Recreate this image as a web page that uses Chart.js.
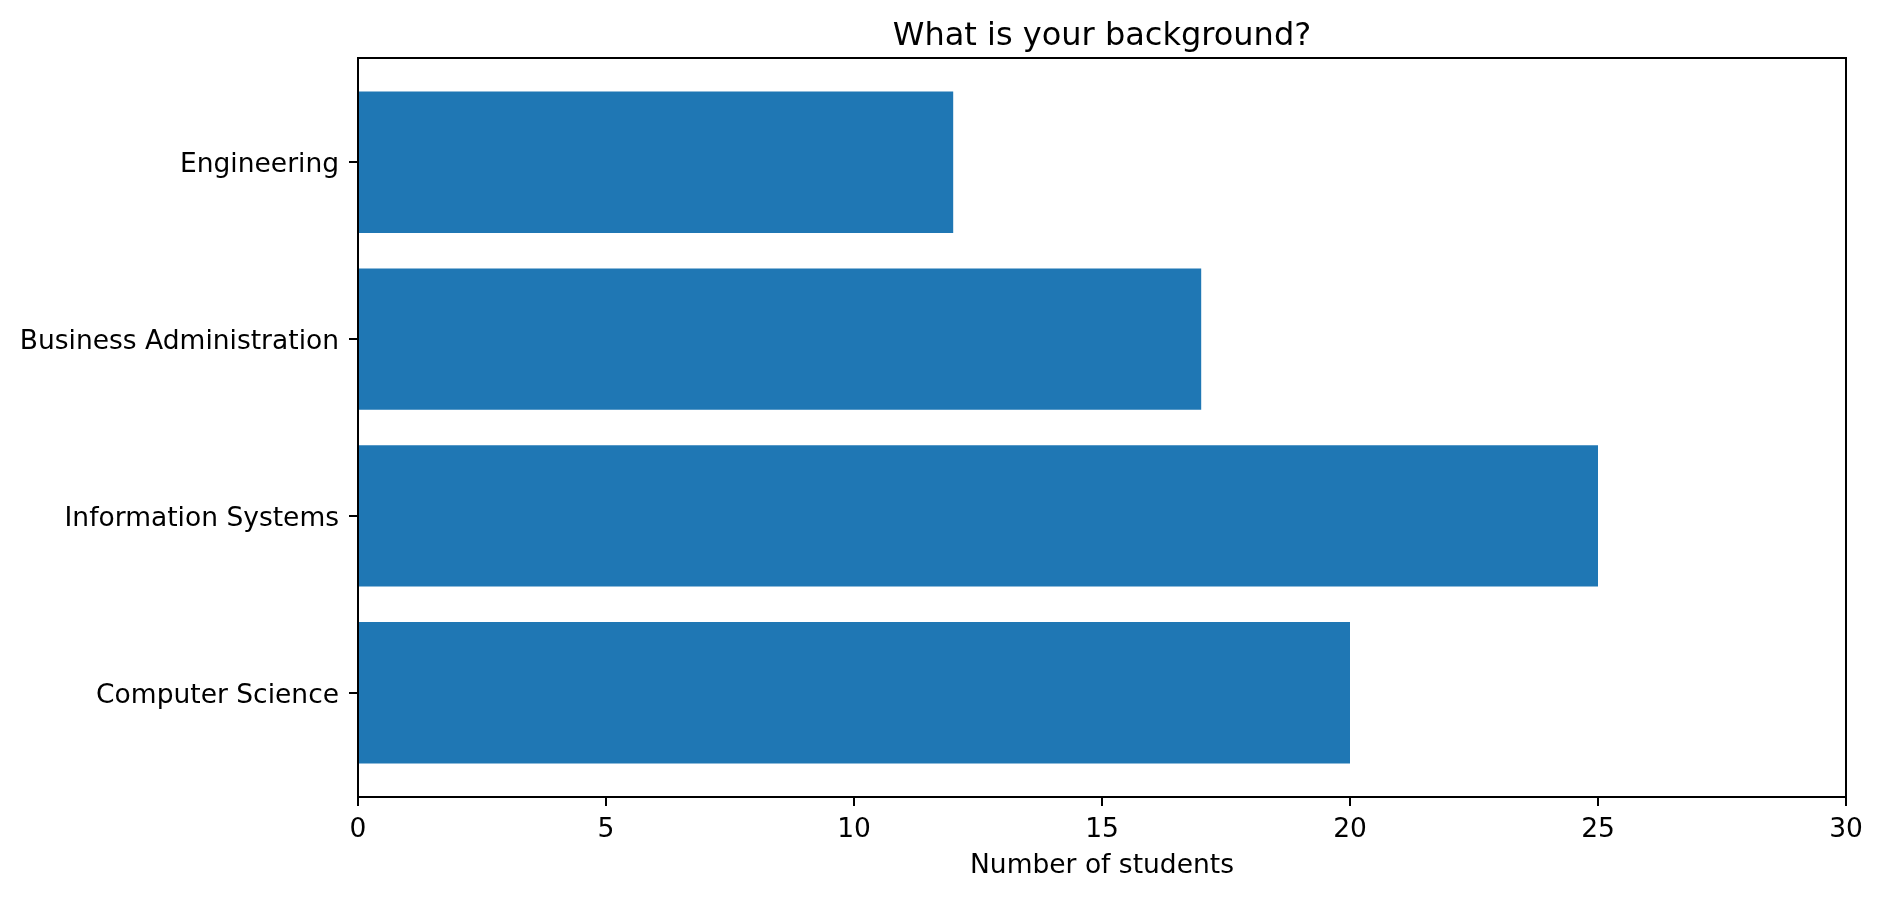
<!DOCTYPE html>
<html>
<head>
<meta charset="utf-8">
<title>What is your background?</title>
<script src="https://cdn.jsdelivr.net/npm/chart.js@4/dist/chart.umd.min.js"></script>
<style>
  html, body { margin: 0; padding: 0; background: #fff; }
  #wrap { width: 1882px; height: 898px; }
</style>
</head>
<body>
<div id="wrap"><canvas id="chart" width="1882" height="898"></canvas></div>
<script>
  // --- Data ---
  var categories = ['Computer Science', 'Information Systems', 'Business Administration', 'Engineering'];
  var students = [20, 25, 17, 12];
  var xTicks = [0, 5, 10, 15, 20, 25, 30];

  var FONT = "'DejaVu Sans', sans-serif";
  var BAR = '#1f77b4';

  // fixed box sizes so the plot area lands where matplotlib put it
  function fixWidth(w) { return function (s) { s.width = w; }; }
  function fixHeight(h) { return function (s) { s.height = h; }; }

  var points = students.map(function (v, i) { return { x: v, y: i }; });

  new Chart(document.getElementById('chart'), {
    type: 'bar',
    data: {
      datasets: [{
        label: 'Number of students',
        data: points,
        backgroundColor: BAR,
        borderWidth: 0,
        barPercentage: 0.8,
        categoryPercentage: 1.0
      }]
    },
    options: {
      indexAxis: 'y',
      responsive: false,
      animation: false,
      devicePixelRatio: 1,
      layout: { padding: 0 },
      plugins: {
        legend: { display: false },
        tooltip: { enabled: false },
        title: { display: false }
      },
      scales: {
        x: {
          type: 'linear',
          position: 'bottom',
          min: 0,
          max: 30,
          afterFit: fixHeight(101),
          afterBuildTicks: function (s) {
            s.ticks = xTicks.map(function (v) { return { value: v }; });
          },
          ticks: {
            font: { family: FONT, size: 26.5 },
            color: '#000',
            padding: 8,
            maxRotation: 0
          },
          grid: {
            display: true,
            drawOnChartArea: false,
            drawTicks: true,
            tickLength: 9,
            color: '#000',
            lineWidth: 2
          },
          border: { display: true, color: '#000', width: 2 },
          title: {
            display: true,
            text: 'Number of students',
            color: '#000',
            font: { family: FONT, size: 26.5, lineHeight: 1.2 },
            padding: { top: 0, bottom: 16 }
          }
        },
        x2: {
          type: 'linear',
          position: 'top',
          min: 0,
          max: 30,
          afterFit: fixHeight(58),
          ticks: { display: false },
          grid: { display: false, drawTicks: false },
          border: { display: true, color: '#000', width: 2 },
          title: {
            display: true,
            text: 'What is your background?',
            color: '#000',
            font: { family: FONT, size: 32, lineHeight: 1.2 },
            padding: { top: 17, bottom: 0 }
          }
        },
        y: {
          type: 'linear',
          position: 'left',
          min: -0.59,
          max: 3.59,
          offset: false,
          afterFit: fixWidth(358),
          afterBuildTicks: function (s) {
            s.ticks = categories.map(function (c, i) { return { value: i }; });
          },
          ticks: {
            font: { family: FONT, size: 26.5 },
            color: '#000',
            padding: 10,
            labelOffset: 3,
            callback: function (v) { return categories[v]; }
          },
          grid: {
            display: true,
            offset: false,
            drawOnChartArea: false,
            drawTicks: true,
            tickLength: 9,
            color: '#000',
            lineWidth: 2
          },
          border: { display: true, color: '#000', width: 2 }
        },
        y2: {
          type: 'linear',
          position: 'right',
          min: -0.59,
          max: 3.59,
          offset: false,
          afterFit: fixWidth(36),
          ticks: { display: false },
          grid: { display: false, drawTicks: false },
          border: { display: true, color: '#000', width: 2 }
        }
      }
    }
  });
</script>
</body>
</html>
